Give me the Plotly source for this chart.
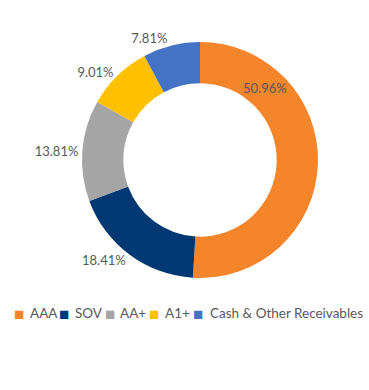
import plotly.graph_objects as go

labels = ["AAA", "SOV", "AA+", "A1+", "Cash & Other Receivables"]
values = [50.96, 18.41, 13.81, 9.01, 7.81]
colors = ["#F5852A", "#003873", "#A5A5A5", "#FFC000", "#4472C4"]
text_labels = ["50.96%", "18.41%", "13.81%", "9.01%", "7.81%"]

# Largest slice label is drawn inside the ring near its top-right, the rest outside
pie_text = [""] + text_labels[1:]

fig = go.Figure(go.Pie(
    labels=labels,
    values=values,
    text=pie_text,
    textinfo="text",
    textposition="outside",
    marker=dict(colors=colors, line=dict(width=0)),
    hole=0.65,
    sort=False,
    direction="clockwise",
    rotation=0,
    textfont=dict(family="Lato", size=13, color="#595959"),
    domain=dict(x=[82/369, 318/369], y=[112/390, 348/390]),
    showlegend=False,
))

# Legend drawn as text items (layout positions in pixels)
sq_x = [19, 64, 110, 154, 198]
txt_x = [28, 73, 118, 163, 208]
leg_y = (390 - 313) / 390
annotations = []
for c, l, xs, xt in zip(colors, labels, sq_x, txt_x):
    annotations.append(dict(
        text="■", x=xs/369, y=leg_y, xref="paper", yref="paper",
        xanchor="center", yanchor="middle", showarrow=False,
        font=dict(family="Lato", size=17, color=c),
    ))
    annotations.append(dict(
        text=l, x=xt/369, y=leg_y, xref="paper", yref="paper",
        xanchor="left", yanchor="middle", showarrow=False,
        font=dict(family="Lato", size=13.5, color="#595959"),
    ))
annotations.append(dict(
    text=text_labels[0], x=265/369, y=(390-88)/390, xref="paper", yref="paper",
    xanchor="center", yanchor="middle", showarrow=False,
    font=dict(family="Lato", size=13, color="#595959"),
))

fig.update_layout(
    width=369, height=390,
    margin=dict(l=0, r=0, t=0, b=0),
    paper_bgcolor="white",
    plot_bgcolor="white",
    font=dict(family="Lato", size=13, color="#595959"),
    annotations=annotations,
)

fig.write_html(
    "out.html",
    config={"displayModeBar": False},
    post_script="document.body.style.margin='0';document.body.style.overflow='hidden';",
)
